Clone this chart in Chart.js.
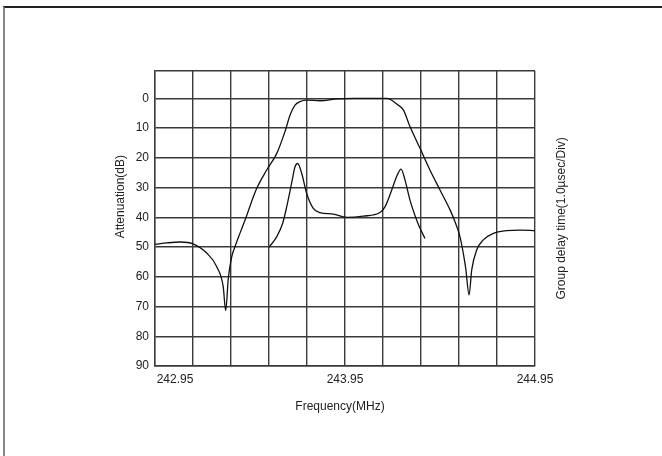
<!DOCTYPE html>
<html>
<head>
<meta charset="utf-8">
<script src="https://cdn.jsdelivr.net/npm/chart.js@4.4.1/dist/chart.umd.min.js"></script>
<style>
  html, body { margin: 0; padding: 0; background: #fff; }
  #wrap { position: relative; width: 662px; height: 456px; overflow: hidden; }
  #frame { position: absolute; left: 3px; top: 6px; right: 0; bottom: 0; border-top: 2px solid #222; border-left: 2px solid #888; }
  canvas { position: absolute; left: 0; top: 0; }
</style>
</head>
<body>
<div id="wrap">
  <div id="frame"></div>
  <canvas id="filterChart" width="662" height="456"></canvas>
</div>
<script>
// grid lines every 0.2 MHz, labels only on the three below
const freqTicks = [242.95, 243.15, 243.35, 243.55, 243.75, 243.95, 244.15, 244.35, 244.55, 244.75, 244.95];
const freqLabels = ['242.95', '243.95', '244.95'];
const attTicks = [-9.3, 0, 10, 20, 30, 40, 50, 60, 70, 80, 90];

// attenuation response
const attFreq = [242.950, 243.013, 243.082, 243.150, 243.222, 243.275, 243.309, 243.322, 243.336, 243.354,
  243.371, 243.397, 243.424, 243.485, 243.538, 243.591, 243.634, 243.661, 243.687, 243.713,
  243.748, 243.818, 243.906, 243.992, 244.082, 244.171, 244.187, 244.222, 244.257, 244.292,
  244.345, 244.397, 244.450, 244.503, 244.529, 244.555, 244.585, 244.603, 244.617, 244.643,
  244.678, 244.731, 244.801, 244.871, 244.950];
const attDb = [49.1, 48.6, 48.3, 48.9, 52.0, 56.6, 63.3, 71.4, 60.4, 53.2,
  49.9, 45.4, 40.9, 30.3, 24.1, 18.5, 11.2, 5.6, 2.3, 1.1,
  0.6, 0.8, 0.2, 0.0, 0.0, 0.0, 0.3, 1.9, 3.9, 9.5,
  16.8, 24.1, 30.8, 37.5, 41.5, 46.5, 57.0, 66.1, 57.7, 51.0,
  47.6, 45.4, 44.5, 44.3, 44.5];

// group delay (1 usec per division)
const delayFreq = [243.550, 243.591, 243.622, 243.643, 243.669, 243.687, 243.701, 243.722, 243.748, 243.783,
  243.818, 243.888, 243.959, 244.046, 244.134, 244.161, 244.196, 244.225, 244.245, 244.266,
  244.292, 244.327, 244.345, 244.371];
const delayUs = [3.99, 4.35, 4.80, 5.35, 6.15, 6.70, 6.81, 6.48, 5.81, 5.30,
  5.16, 5.11, 5.00, 5.04, 5.16, 5.36, 5.92, 6.42, 6.62, 6.25,
  5.58, 4.91, 4.63, 4.29];

Chart.defaults.font.family = '"Liberation Sans", Arial, sans-serif';
Chart.defaults.font.size = 12;
Chart.defaults.color = '#222';

const gridColor = '#3a3a3a';

// Chart.js turns right-hand titles downwards, this one reads upwards
const rightTitle = {
  id: 'rightTitle',
  afterDraw(chart) {
    const t = chart.options.scales.y2.title;
    const area = chart.chartArea;
    const ctx = chart.ctx;
    ctx.save();
    ctx.translate(area.right + 27, (area.top + area.bottom) / 2);
    ctx.rotate(-Math.PI / 2);
    ctx.font = '12px "Liberation Sans", Arial, sans-serif';
    ctx.fillStyle = '#222';
    ctx.textAlign = 'center';
    ctx.textBaseline = 'middle';
    ctx.fillText(t.text, 0, 0);
    ctx.restore();
  }
};

const ctx = document.getElementById('filterChart').getContext('2d');
const chart = new Chart(ctx, {
  type: 'line',
  data: {
    datasets: [{
      data: attFreq.map((f, i) => ({x: f, y: attDb[i]})),
      borderColor: '#111',
      borderWidth: 1.3,
      pointRadius: 0,
      cubicInterpolationMode: 'monotone',
      yAxisID: 'y'
    }, {
      data: delayFreq.map((f, i) => ({x: f, y: delayUs[i]})),
      borderColor: '#111',
      borderWidth: 1.3,
      pointRadius: 0,
      cubicInterpolationMode: 'monotone',
      yAxisID: 'y2'
    }]
  },
  options: {
    responsive: false,
    animation: false,
    layout: { padding: { top: 70.7, right: 127, bottom: 0, left: 0 } },
    plugins: {
      legend: { display: false },
      tooltip: { enabled: false }
    },
    scales: {
      x: {
        type: 'linear',
        min: 242.95,
        max: 244.95,
        afterBuildTicks: scale => { scale.ticks = freqTicks.map(v => ({value: v})); },
        afterFit: scale => { scale.height = 90; },
        grid: { color: gridColor, lineWidth: 1.4, drawTicks: false },
        border: { color: gridColor, width: 1.4 },
        ticks: {
          autoSkip: false,
          maxRotation: 0,
          minRotation: 0,
          padding: 6,
          callback: function(value) {
            const i = freqLabels.findIndex(l => Math.abs(parseFloat(l) - value) < 1e-6);
            if (i < 0) return '';
            return i === 0 ? ' '.repeat(12) + freqLabels[i] : freqLabels[i];
          }
        },
        title: {
          display: true,
          text: 'Frequency(MHz)   ',
          padding: { top: 0, bottom: 41.8 }
        }
      },
      y: {
        min: -9.3,
        max: 90,
        reverse: true,
        afterBuildTicks: scale => { scale.ticks = attTicks.map(v => ({value: v})); },
        afterFit: scale => { scale.width = 155; },
        grid: { color: gridColor, lineWidth: 1.4, drawTicks: false },
        border: { color: gridColor, width: 1.4 },
        ticks: {
          padding: 6,
          callback: value => value < 0 ? '' : value
        },
        title: {
          display: true,
          text: ' '.repeat(13) + 'Attenuation(dB)',
          padding: { top: 113.8, bottom: 0 }
        }
      },
      y2: {
        display: false,
        position: 'right',
        min: 0,
        max: 9.93,
        title: { text: 'Group delay time(1.0µsec/Div)' }
      }
    }
  },
  plugins: [rightTitle]
});
</script>
</body>
</html>
